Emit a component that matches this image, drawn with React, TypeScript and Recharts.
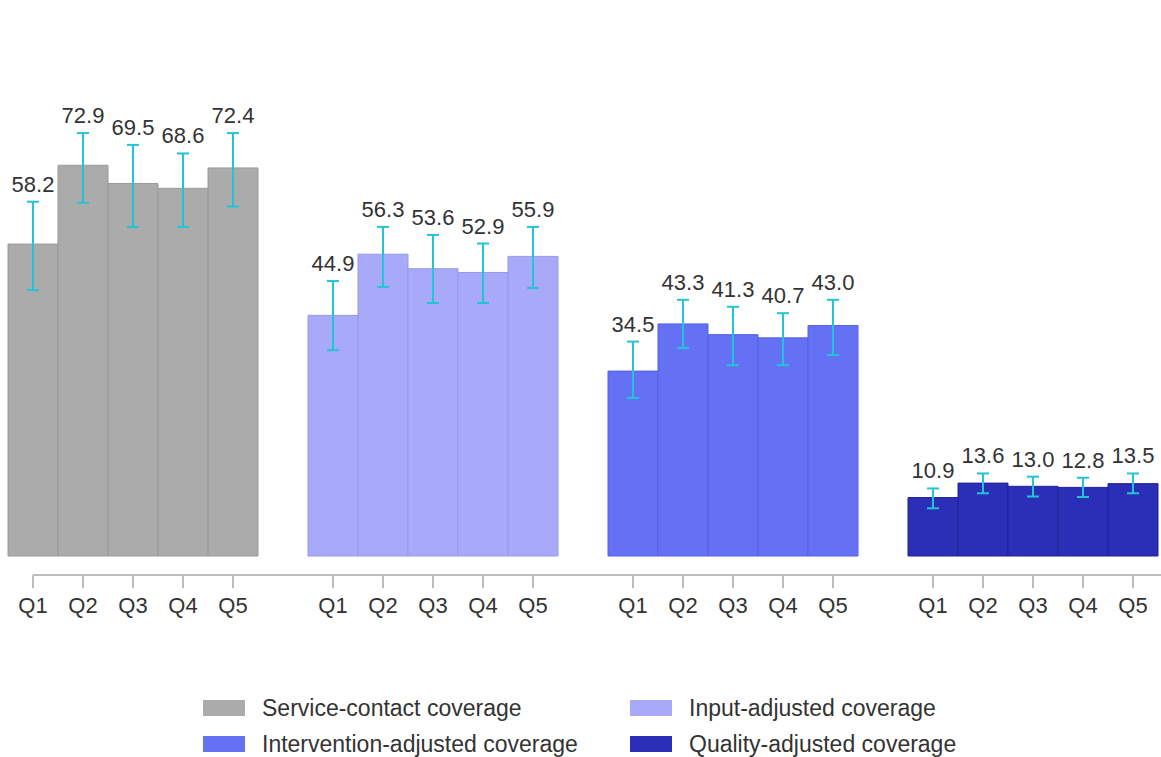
import * as React from "react"
import { BarChart, Bar, XAxis, YAxis, ErrorBar, LabelList, Cell } from "recharts"

const quintiles = ["Q1", "Q2", "Q3", "Q4", "Q5"]

const measures = [
  "Service-contact coverage",
  "Input-adjusted coverage",
  "Intervention-adjusted coverage",
  "Quality-adjusted coverage",
]

const fills = ["#ababab", "#a8a9f8", "#6471f5", "#2b2eb6"]
const strokes = ["#9a9a9a", "#9799ea", "#5560e6", "#1f2299"]

// point estimates by wealth quintile
const serviceContact = [58.2, 72.9, 69.5, 68.6, 72.4]
const inputAdjusted = [44.9, 56.3, 53.6, 52.9, 55.9]
const interventionAdjusted = [34.5, 43.3, 41.3, 40.7, 43.0]
const qualityAdjusted = [10.9, 13.6, 13.0, 12.8, 13.5]

// 95% confidence intervals [low, high]
const serviceContactCI = [[49.6, 66.1], [65.9, 78.9], [61.4, 76.7], [61.4, 75.1], [65.2, 78.9]]
const inputAdjustedCI = [[38.4, 51.3], [50.2, 61.4], [47.2, 59.9], [47.2, 58.3], [50.0, 61.4]]
const interventionAdjustedCI = [[29.5, 40.0], [38.8, 47.8], [35.6, 46.5], [35.6, 45.3], [37.5, 47.8]]
const qualityAdjustedCI = [[8.9, 12.6], [11.7, 15.4], [11.1, 14.8], [11.0, 14.6], [11.7, 15.4]]

const values = [serviceContact, inputAdjusted, interventionAdjusted, qualityAdjusted]
const intervals = [serviceContactCI, inputAdjustedCI, interventionAdjustedCI, qualityAdjustedCI]

type Row = {
  key: string
  label: string
  group: number
  value: number | null
  high: number | null
  err?: [number, number]
}

// one band per quintile, with an empty band between measure groups
const rows: Row[] = []
values.forEach((series, g) => {
  series.forEach((v, i) => {
    const [lo, hi] = intervals[g][i]
    rows.push({ key: `${g}-${quintiles[i]}`, label: quintiles[i], group: g, value: v, high: hi, err: [v - lo, hi - v] })
  })
  if (g < values.length - 1) rows.push({ key: `gap-${g}`, label: "", group: g, value: null, high: null })
})

const FONT = "'Liberation Sans', Arial, Helvetica, sans-serif"
const TEXT = "#333333"
const AXIS = "#bdbdbd"

const QuintileTick = (props: any) => {
  const { x, y, payload } = props
  const row = rows.find((r) => r.key === payload.value)
  const step = 50
  return (
    <g>
      <line x1={x} x2={x + step} y1={y + 19} y2={y + 19} stroke={AXIS} strokeWidth={2} />
      {row && row.label && <line x1={x} x2={x} y1={y + 19} y2={y + 32} stroke={AXIS} strokeWidth={2} />}
      {row && row.label && (
        <text x={x} y={y + 57} textAnchor="middle" fontSize={22} fontFamily={FONT} fill={TEXT}>
          {row.label}
        </text>
      )}
    </g>
  )
}

// value printed just above the upper whisker of each bar
const ValueLabel = (props: any) => {
  const { x, y, width, height, value } = props
  const row = rows.find((r) => r.key === value)
  if (!row || row.value == null || row.high == null) return null
  const base = y + height
  const top = base - row.high * (height / row.value)
  return (
    <text x={x + width / 2} y={top - 10} textAnchor="middle" fontSize={22} fontFamily={FONT} fill={TEXT}>
      {row.value.toFixed(1)}
    </text>
  )
}

export default function App() {
  return (
    <div style={{ position: "absolute", left: 0, top: 0, width: 1161, height: 757, background: "#fff", overflow: "hidden" }}>
      <BarChart
        width={1161}
        height={640}
        data={rows}
        margin={{ top: 20, right: 3, left: 8, bottom: 0 }}
        barCategoryGap={0}
        barGap={0}
      >
        <XAxis
          dataKey="key"
          axisLine={false}
          tickLine={false}
          tickSize={0}
          tickMargin={0}
          height={84}
          interval={0}
          tick={<QuintileTick />}
        />
        <YAxis hide domain={[0, 100]} />
        <Bar dataKey="value" isAnimationActive={false} strokeWidth={1}>
          {rows.map((r) => (
            <Cell key={r.key} fill={fills[r.group]} stroke={strokes[r.group]} />
          ))}
          <ErrorBar dataKey="err" width={6} stroke="#23c4d6" strokeWidth={2} direction="y" />
          <LabelList dataKey="key" content={<ValueLabel />} />
        </Bar>
      </BarChart>
      {measures.map((m, i) => {
        const col = i % 2
        const line = Math.floor(i / 2)
        const left = col === 0 ? 203 : 630
        const top = line === 0 ? 700 : 736
        return (
          <div key={m} style={{ position: "absolute", left, top, display: "flex", alignItems: "center", height: 16 }}>
            <div style={{ width: 42, height: 16, background: fills[i] }} />
            <span style={{ marginLeft: 17, fontFamily: FONT, fontSize: 23, color: TEXT, whiteSpace: "nowrap" }}>{m}</span>
          </div>
        )
      })}
    </div>
  )
}
